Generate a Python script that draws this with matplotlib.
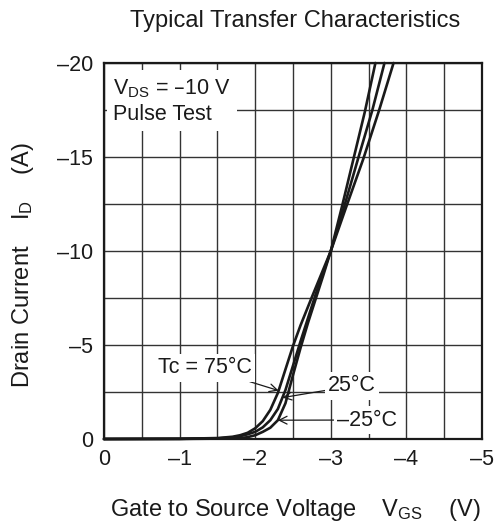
"""Typical transfer characteristics: drain current vs gate-source voltage."""
import matplotlib
import numpy as np

matplotlib.use("Agg")
from matplotlib import pyplot as plt

plt.rcParams["font.family"] = ["Liberation Sans", "DejaVu Sans"]
plt.rcParams["mathtext.default"] = "regular"

# Gate-source voltage (V) and drain current (A) for each case temperature
vgs_75 = [0.0, -1.0, -1.5, -1.7, -1.8, -1.9, -2.0, -2.1, -2.2, -2.3, -2.4, -2.5,
          -2.6, -2.75, -3.0, -3.2, -3.43, -3.64, -3.83]
id_75 = [0.0, -0.01, -0.05, -0.12, -0.2, -0.33, -0.57, -0.95, -1.55, -2.45, -3.7, -4.95,
         -6.05, -7.55, -10.0, -12.3, -14.9, -17.5, -20.0]

vgs_25 = [0.0, -1.0, -1.5, -1.7, -1.8, -1.9, -2.0, -2.1, -2.2, -2.3, -2.4, -2.5,
          -2.6, -2.7, -2.8, -2.9, -3.0, -3.18, -3.36, -3.55, -3.71]
id_25 = [0.0, -0.01, -0.03, -0.08, -0.15, -0.25, -0.38, -0.62, -1.0, -1.6, -2.6, -3.9,
         -5.2, -6.45, -7.7, -8.85, -10.0, -12.4, -14.9, -17.5, -20.0]

vgs_m25 = [0.0, -1.0, -1.5, -1.8, -1.9, -2.0, -2.1, -2.2, -2.3, -2.4, -2.5, -2.6,
           -2.7, -2.8, -2.9, -3.0, -3.15, -3.3, -3.45, -3.59]
id_m25 = [0.0, -0.005, -0.02, -0.04, -0.1, -0.2, -0.38, -0.6, -1.0, -1.9, -3.4, -4.85,
          -6.2, -7.45, -8.7, -10.0, -12.4, -14.9, -17.4, -20.0]

x_ticks = [0, -1, -2, -3, -4, -5]
x_tick_labels = ["0", "–1", "–2", "–3", "–4", "–5"]
y_ticks = [0, -5, -10, -15, -20]
y_tick_labels = ["0", "–5", "–10", "–15", "–20"]


def point_on(vgs, ids, v):
    """Current of a curve at gate voltage v (curves are stored with falling vgs)."""
    return float(np.interp(-v, -np.asarray(vgs), np.asarray(ids)))


W, H = 502, 524
fig = plt.figure(figsize=(W / 100, H / 100), dpi=100)
ax = fig.add_axes([104 / W, 1 - 439 / H, (482 - 104) / W, (439 - 63) / H])

ax.set_xlim(0, -5)
ax.set_ylim(0, -20)
ax.set_xticks(x_ticks)
ax.set_xticklabels(x_tick_labels)
ax.set_yticks(y_ticks)
ax.set_yticklabels(y_tick_labels)
ax.set_xticks(np.arange(0, -5.01, -0.5), minor=True)
ax.set_yticks(np.arange(0, -20.01, -2.5), minor=True)
ax.tick_params(which="both", length=0, labelsize=15.5, colors="#1a1a1a")
ax.tick_params(axis="x", pad=7)
ax.tick_params(axis="y", pad=8)
ax.grid(True, which="both", color="#333333", linewidth=1.0)
ax.set_axisbelow(True)
for spine in ax.spines.values():
    spine.set_linewidth(1.6)
    spine.set_color("#1a1a1a")

for vgs, ids in ((vgs_75, id_75), (vgs_25, id_25), (vgs_m25, id_m25)):
    ax.plot(vgs, ids, color="#1a1a1a", linewidth=1.9, solid_joinstyle="round",
            solid_capstyle="round", clip_on=False, zorder=3)

ax.text(-0.12, -19.25, "V$_{DS}$ = –10 V\nPulse Test", fontsize=15.5, ha="left", va="top",
        linespacing=1.25, color="#1a1a1a", zorder=4,
        bbox=dict(boxstyle="square,pad=0.3", facecolor="white", edgecolor="none"))

arrow = dict(arrowstyle="->", color="#1a1a1a", linewidth=0.9, shrinkA=0, shrinkB=0,
             mutation_scale=14)
label_box = dict(boxstyle="square,pad=0.15", facecolor="white", edgecolor="none")
ax.annotate("Tc = 75°C", xy=(-2.31, point_on(vgs_75, id_75, -2.31)), xytext=(-1.34, -3.78),
            ha="center", va="center", fontsize=15.5, color="#1a1a1a", bbox=label_box,
            arrowprops=arrow, zorder=4)
ax.annotate("25°C", xy=(-2.36, point_on(vgs_25, id_25, -2.36)), xytext=(-3.28, -2.82),
            ha="center", va="center", fontsize=15.5, color="#1a1a1a", bbox=label_box,
            arrowprops=arrow, zorder=4)
ax.annotate("–25°C", xy=(-2.3, point_on(vgs_m25, id_m25, -2.3)), xytext=(-3.48, -1.01),
            ha="center", va="center", fontsize=15.5, color="#1a1a1a", bbox=label_box,
            arrowprops=arrow, zorder=4)

fig.text(295 / W, 1 - 27 / H, "Typical Transfer Characteristics", ha="center",
         va="baseline", fontsize=17, color="#1a1a1a")
fig.text(295 / W, 1 - 516 / H, "Gate to Source Voltage    V$_{GS}$    (V)", ha="center",
         va="baseline", fontsize=17, color="#1a1a1a")
fig.text(23 / W, 1 - 265 / H, "Drain Current    I$_{D}$    (A)", ha="center", va="center",
         rotation=90, fontsize=17, color="#1a1a1a")

fig.savefig("out.png", dpi=100, facecolor="white")
plt.close(fig)
